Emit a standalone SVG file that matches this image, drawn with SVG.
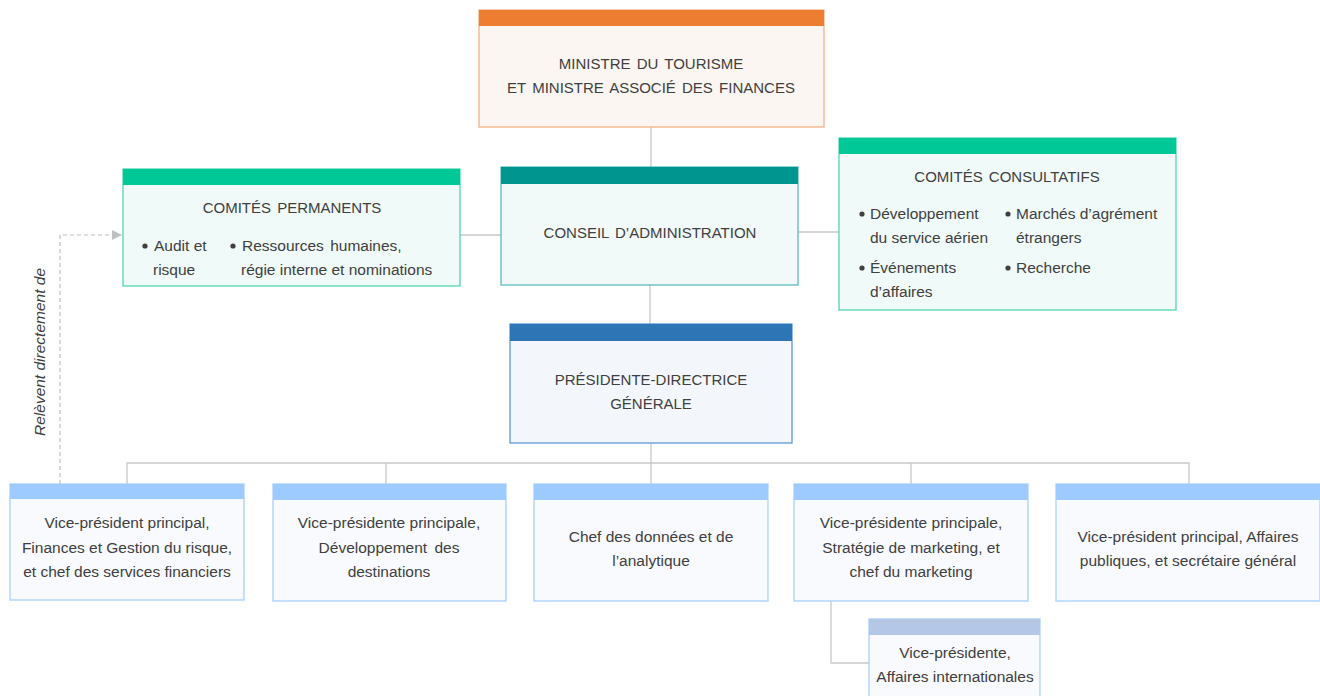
<svg xmlns="http://www.w3.org/2000/svg" width="1320" height="696" viewBox="0 0 1320 696">
<style>
text{font-family:"Liberation Sans",Arial,sans-serif;font-size:15.5px;fill:#404040}
.c{text-anchor:middle}
.cap{font-size:15px;word-spacing:2px}
.ln{stroke:#c8c8c8;stroke-width:1.3;fill:none}
.dash{stroke:#c0c0c0;stroke-width:1.2;fill:none;stroke-dasharray:4 3}
.vp{fill:#f8fafe;stroke:#a8cfff;stroke-width:1.3}
.vph{fill:#9dcbff}
.bul{fill:#404040}
</style>
<defs>
<marker id="ah" markerWidth="10" markerHeight="10" refX="9" refY="5" orient="auto" markerUnits="userSpaceOnUse">
<path d="M0,0 L10,5 L0,10 z" fill="#c0c0c0"/>
</marker>
</defs>
<rect width="1320" height="696" fill="#ffffff"/>
<g id="connectors">
<path class="ln" d="M651,127 V167"/>
<path class="ln" d="M460,235 H501"/>
<path class="ln" d="M798,232 H839"/>
<path class="ln" d="M650,285 V324"/>
<path class="ln" d="M651,443 V463 M127,484 V463 H1189 V484 M386,463 V484 M651,463 V484 M911,463 V484"/>
<path class="ln" d="M831,600 V663 H869"/>
<path class="dash" d="M60,484 V235 H121" marker-end="url(#ah)"/>
</g>
<text transform="translate(45,352) rotate(-90)" class="c" font-style="italic">Relèvent directement de</text>
<g id="ministre">
<rect x="479" y="10" width="345" height="117" fill="#fbf6f2" stroke="#f4b183" stroke-width="1.3"/>
<rect x="479" y="10" width="345" height="16" fill="#ed7d31"/>
<text class="c cap" x="651" y="69">MINISTRE DU TOURISME</text>
<text class="c cap" x="651" y="93">ET MINISTRE ASSOCIÉ DES FINANCES</text>
</g>
<g id="conseil">
<rect x="501" y="167" width="297" height="118" fill="#f1f9f9" stroke="#5bbcb8" stroke-width="1.3"/>
<rect x="501" y="167" width="297" height="17" fill="#009690"/>
<text class="c cap" x="650" y="238">CONSEIL D’ADMINISTRATION</text>
</g>
<g id="permanents">
<rect x="123" y="169" width="337" height="117" fill="#f0faf8" stroke="#50d8b0" stroke-width="1.3"/>
<rect x="123" y="169" width="337" height="16" fill="#00c896"/>
<text class="c cap" x="292" y="213">COMITÉS PERMANENTS</text>
<circle class="bul" cx="145" cy="246" r="2.6"/>
<text x="154" y="251">Audit et</text>
<text x="153" y="275">risque</text>
<circle class="bul" cx="233" cy="246" r="2.6"/>
<text x="242" y="251" word-spacing="2">Ressources humaines,</text>
<text x="241" y="275">régie interne et nominations</text>
</g>
<g id="consultatifs">
<rect x="839" y="138" width="337" height="172" fill="#f0faf8" stroke="#50d8b0" stroke-width="1.3"/>
<rect x="839" y="138" width="337" height="16" fill="#00c896"/>
<text class="c cap" x="1007" y="182">COMITÉS CONSULTATIFS</text>
<circle class="bul" cx="862" cy="214" r="2.6"/>
<text x="870" y="219">Développement</text>
<text x="870" y="243">du service aérien</text>
<circle class="bul" cx="862" cy="268" r="2.6"/>
<text x="870" y="273">Événements</text>
<text x="870" y="297">d’affaires</text>
<circle class="bul" cx="1008" cy="214" r="2.6"/>
<text x="1016" y="219">Marchés d’agrément</text>
<text x="1016" y="243">étrangers</text>
<circle class="bul" cx="1008" cy="268" r="2.6"/>
<text x="1016" y="273">Recherche</text>
</g>
<g id="presidente">
<rect x="510" y="324" width="282" height="119" fill="#f3f7fb" stroke="#5b9bd5" stroke-width="1.3"/>
<rect x="510" y="324" width="282" height="17" fill="#2e75b6"/>
<text class="c cap" x="651" y="385">PRÉSIDENTE-DIRECTRICE</text>
<text class="c cap" x="651" y="409">GÉNÉRALE</text>
</g>
<g id="vp-finances">
<rect class="vp" x="10" y="484" width="234" height="116"/>
<rect class="vph" x="10" y="484" width="234" height="15"/>
<text class="c" x="127" y="528">Vice-président principal,</text>
<text class="c" x="127" y="553">Finances et Gestion du risque,</text>
<text class="c" x="127" y="577">et chef des services financiers</text>
</g>
<g id="vp-destinations">
<rect class="vp" x="273" y="484" width="233" height="117"/>
<rect class="vph" x="273" y="484" width="233" height="16"/>
<text class="c" x="389" y="528">Vice-présidente principale,</text>
<text class="c" x="389" y="553" word-spacing="3">Développement des</text>
<text class="c" x="389" y="577">destinations</text>
</g>
<g id="chef-donnees">
<rect class="vp" x="534" y="484" width="234" height="117"/>
<rect class="vph" x="534" y="484" width="234" height="16"/>
<text class="c" x="651" y="542">Chef des données et de</text>
<text class="c" x="651" y="566">l’analytique</text>
</g>
<g id="vp-marketing">
<rect class="vp" x="794" y="484" width="234" height="117"/>
<rect class="vph" x="794" y="484" width="234" height="16"/>
<text class="c" x="911" y="528">Vice-présidente principale,</text>
<text class="c" x="911" y="553">Stratégie de marketing,  et</text>
<text class="c" x="911" y="577">chef du marketing</text>
</g>
<g id="vp-affaires-publiques">
<rect class="vp" x="1056" y="484" width="264" height="117"/>
<rect class="vph" x="1056" y="484" width="264" height="16"/>
<text class="c" x="1188" y="542">Vice-président principal, Affaires</text>
<text class="c" x="1188" y="566">publiques, et secrétaire général</text>
</g>
<g id="vp-internationales">
<rect class="vp" x="869" y="619" width="171" height="80"/>
<rect x="869" y="619" width="171" height="16" fill="#b4c7e7"/>
<text class="c" x="955" y="658">Vice-présidente,</text>
<text class="c" x="955" y="682">Affaires internationales</text>
</g>
</svg>
